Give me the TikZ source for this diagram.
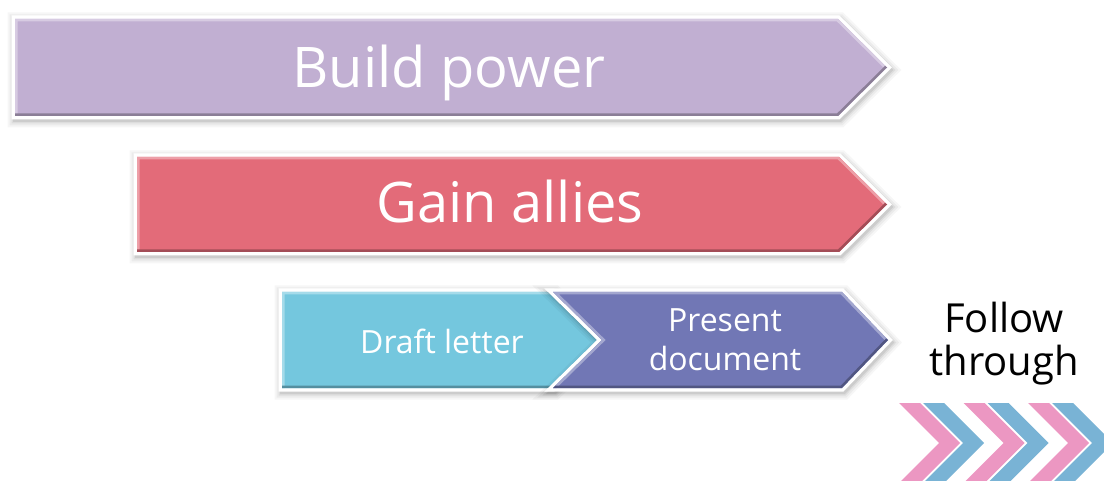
\documentclass[tikz,border=0pt]{standalone}
\usepackage{fontspec}
\setmainfont{Open Sans}
\definecolor{bpcol}{HTML}{C1AFD2}
\definecolor{gacol}{HTML}{E36B79}
\definecolor{dlcol}{HTML}{74C7DE}
\definecolor{pdcol}{HTML}{7177B5}
\definecolor{chpink}{HTML}{EC97C2}
\definecolor{chblue}{HTML}{79B3D5}
\newcommand\fxshape[4]{%
  % #1 polygon, #2 light edge chain, #3 dark edge chain, #4 colour
  \foreach \w/\o in {18/0.035,14/0.045,10/0.06,7/0.08} {%
    \draw[black, opacity=\o, line width=\w pt, shift={(1.5,2.5)}] #1 -- cycle;}
  \draw[white, line width=7pt] #1 -- cycle;
  \fill[#4] #1 -- cycle;
  \begin{scope}
    \clip #1 -- cycle;
    \draw[#4!65!white, line width=5pt] #2;
    \draw[#4!72!black, line width=5pt] #3;
  \end{scope}
}
\tikzset{
  bigtxt/.style={text=white, font=\fontsize{56}{60}\selectfont, inner sep=0pt, anchor=base},
  midtxt/.style={text=white, font=\fontsize{32}{39}\selectfont, inner sep=0pt, align=center},
  chev/.style={line width=0pt}
}
\begin{document}
\begin{tikzpicture}[x=1pt,y=-1pt,line join=miter]
\useasboundingbox (0,0) rectangle (1104,481);
% Build power
\fxshape{(15,19) -- (838,19) -- (887,67.5) -- (838,116) -- (15,116)}
        {(15,116) -- (15,19) -- (838,19) -- (887,67.5)}
        {(887,67.5) -- (838,116) -- (15,116)}{bpcol}
\node[bigtxt] (bp) at (449,88) {Build power};
% Gain allies
\fxshape{(137,157) -- (839,157) -- (887,204.5) -- (839,252) -- (137,252)}
        {(137,252) -- (137,157) -- (839,157) -- (887,204.5)}
        {(887,204.5) -- (839,252) -- (137,252)}{gacol}
\node[bigtxt] (ga) at (510,223) {Gain allies};
% Draft letter
\fxshape{(282,292) -- (553,292) -- (602,340) -- (553,388) -- (282,388)}
        {(282,388) -- (282,292) -- (553,292) -- (602,340)}
        {(602,340) -- (553,388) -- (282,388)}{dlcol}
\node[midtxt, anchor=base] (dl) at (442,353) {Draft letter};
% Present document
\fxshape{(553,292) -- (842,292) -- (888,340) -- (842,388) -- (553,388) -- (602,340)}
        {(553,388) -- (602,340) -- (553,292) -- (842,292) -- (888,340)}
        {(888,340) -- (842,388) -- (553,388)}{pdcol}
\node[midtxt] (pd) at (725,340) {Present\\document};
% Follow through
\node[text=black, font=\fontsize{40}{43}\selectfont, inner sep=0pt, align=center] (ft) at (1004,344) {Follow\\through};
% chevrons
\begin{scope}
  \clip (0,0) rectangle (1104,481);
  \foreach \x in {899,963.5,1028} {
    \fill[chpink] (\x,403) -- (\x+21,403) -- (\x+61,443) -- (\x+21,483) -- (\x,483) -- (\x+40,443) -- cycle;
    \fill[chblue] (\x+24,403) -- (\x+45,403) -- (\x+85,443) -- (\x+45,483) -- (\x+24,483) -- (\x+64,443) -- cycle;
  }
\end{scope}
\end{tikzpicture}
\end{document}
